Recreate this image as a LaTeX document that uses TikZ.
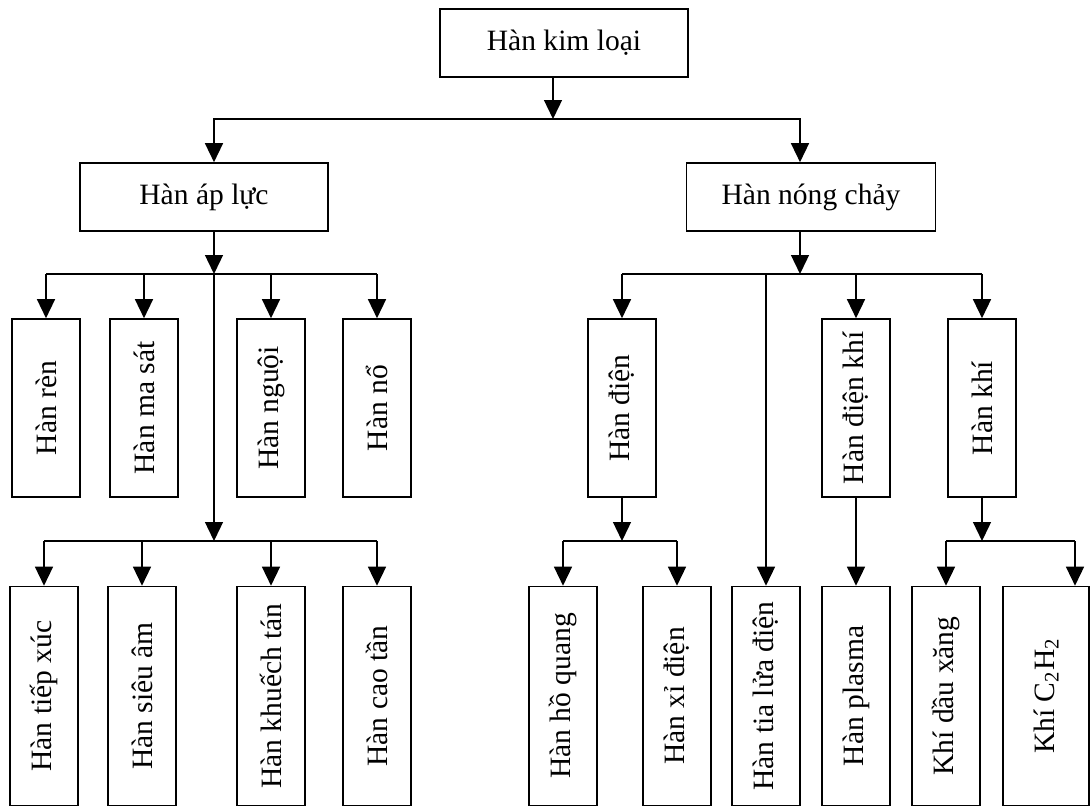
\documentclass[tikz,border=0pt]{standalone}
\usepackage{fontspec}
\setmainfont{Liberation Serif}
\usetikzlibrary{arrows.meta,calc}
\newlength{\pu}
\setlength{\pu}{0.016667cm}

\begin{document}
\begin{tikzpicture}[x=0.016667cm,y=-0.016667cm,line width=0.75pt,
    box/.style={draw,inner sep=0pt,font=\fontsize{14}{16}\selectfont,
      minimum width=248\pu,minimum height=68\pu},
    vbox/.style={draw,inner sep=0pt,font=\fontsize{14}{16}\selectfont,
      minimum width=68\pu,minimum height=#1\pu},
    arr/.style={-{Triangle[length=9pt,width=8.5pt]}}]
  \useasboundingbox (0,0) rectangle (1092,808);

  % top levels
  \node[box] (kimloai) at (564,43) {Hàn kim loại};
  \node[box] (aplu) at (204,197) {Hàn áp lực};
  \node[box,minimum width=249\pu] (nongchay) at (811,197) {Hàn nóng chảy};

  % upper row
  \foreach \n/\x/\t in {ren/46/Hàn rèn, masat/144/Hàn ma sát, nguoi/271/Hàn nguội,
      no/377/Hàn nổ, dien/622/Hàn điện, dienkhi/856/Hàn điện khí, khi/982/Hàn khí}
    \node[vbox=178] (\n) at (\x,408) {\rotatebox{90}{\t}};

  % lower row
  \foreach \n/\x/\t in {tiepxuc/44/Hàn tiếp xúc, sieuam/142/Hàn siêu âm,
      khuechtan/271/Hàn khuếch tán, caotan/377/Hàn cao tần, hoquang/563/Hàn hồ quang,
      xidien/677/Hàn xỉ điện, tialua/766/Hàn tia lửa điện, plasma/856/Hàn plasma,
      dauxang/946/Khí dầu xăng}
    \node[vbox=219] (\n) at (\x,696) {\rotatebox{90}{\t}};
  \node[vbox=219,minimum width=86\pu] (c2h2) at (1046,696)
    {\rotatebox{90}{Khí C\textsubscript{2}H\textsubscript{2}}};

  % junctions
  \coordinate (j0) at (553,119);
  \coordinate (ja) at (214,274);
  \coordinate (jb) at (214,541);
  \coordinate (jn) at (800,274);
  \coordinate (jd) at (620,541);
  \coordinate (jk) at (982,541);
  \coordinate (kc) at (1075,541);

  \draw[arr] (kimloai.south -| j0) -- (j0);
  \draw[arr] (j0) -| (aplu.north -| ja);
  \draw[arr] (j0) -| (nongchay.north -| jn);

  % left branch
  \draw[arr] (aplu.south -| ja) -- (ja);
  \draw (ren.north |- ja) -- (no.north |- ja);
  \foreach \n in {ren,masat,nguoi,no}
    \draw[arr] (\n.north |- ja) -- (\n.north);
  \draw[arr] (ja) -- (jb);
  \draw (tiepxuc.north |- jb) -- (caotan.north |- jb);
  \foreach \n in {tiepxuc,sieuam,khuechtan,caotan}
    \draw[arr] (\n.north |- jb) -- (\n.north);

  % right branch
  \draw[arr] (nongchay.south -| jn) -- (jn);
  \draw (dien.north |- jn) -- (khi.north |- jn);
  \foreach \n in {dien,dienkhi,khi}
    \draw[arr] (\n.north |- jn) -- (\n.north);
  \draw[arr] (tialua.north |- jn) -- (tialua.north);
  \draw[arr] (dien.south) -- (dien.south |- jd);
  \draw (hoquang.north |- jd) -- (xidien.north |- jd);
  \foreach \n in {hoquang,xidien}
    \draw[arr] (\n.north |- jd) -- (\n.north);
  \draw[arr] (dienkhi.south) -- (plasma.north);
  \draw[arr] (khi.south) -- (khi.south |- jk);
  \draw (dauxang.north |- jk) -- (kc);
  \draw[arr] (dauxang.north |- jk) -- (dauxang.north);
  \draw[arr] (kc) -- (kc |- c2h2.north);
\end{tikzpicture}
\end{document}
